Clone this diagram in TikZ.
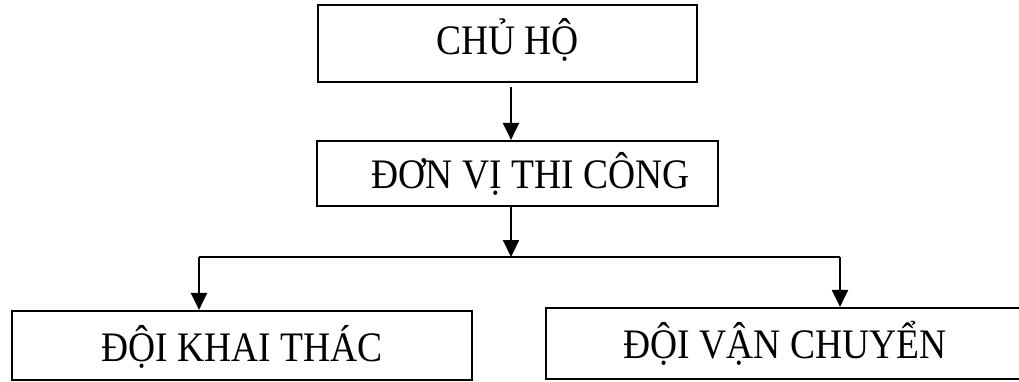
\documentclass[tikz,border=0pt]{standalone}
\usepackage{fontspec}
\setmainfont{Liberation Serif}
\usetikzlibrary{arrows.meta}
\newcommand{\tallt}[1]{\scalebox{1}[1.12]{#1}}
\begin{document}
\begin{tikzpicture}[x=1pt,y=-1pt,
  box/.style={draw,line width=2.2pt,inner sep=0pt,minimum width=#1},
  lbl/.style={font=\fontsize{37.5}{44}\selectfont},
  conn/.style={line width=2.2pt},
  arr/.style={conn,-{Triangle[length=17pt,width=16pt]}}]
\useasboundingbox (0,0) rectangle (1019,381);
\node[box=379pt,minimum height=77pt,label={[lbl,yshift=4pt]center:\tallt{CHỦ HỘ}}] (b1) at (507.5,43.5) {};
\node[box=401pt,minimum height=65pt,label={[lbl,xshift=13pt]center:\tallt{ĐƠN VỊ THI CÔNG}}] (b2) at (517.5,173.5) {};
\node[box=460pt,minimum height=69pt,label={[lbl,yshift=-1pt]center:\tallt{ĐỘI KHAI THÁC}}] (b3) at (242,345.5) {};
\node[box=480pt,minimum height=71pt,label={[lbl,xshift=-1pt]center:\tallt{ĐỘI VẬN CHUYỂN}}] (b4) at (786,343.5) {};
\coordinate (s1) at (511,87);
\coordinate (j) at (511,257);
\coordinate (jl) at (199,257);
\coordinate (jr) at (840,257);
\draw[arr] (s1) -- (s1 |- b2.north);
\draw[arr] (j |- b2.south) -- (j);
\draw[conn] (jl) -- (jr);
\draw[arr] (jl) -- (jl |- b3.north);
\draw[arr] (jr) -- (jr |- b4.north);
\end{tikzpicture}
\end{document}
